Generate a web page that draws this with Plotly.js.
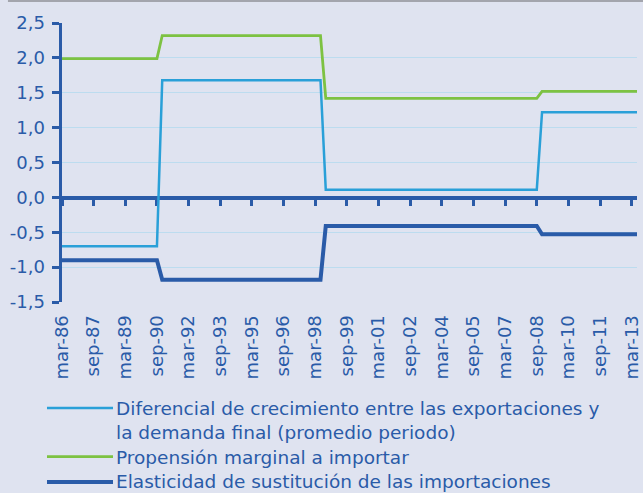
<!DOCTYPE html>
<html>
<head>
<meta charset="utf-8">
<script src="https://cdn.plot.ly/plotly-3.0.1.min.js"></script>
<style>
  html, body { margin: 0; padding: 0; background: #dfe3f0; }
  #chart { width: 643px; height: 493px; }
</style>
</head>
<body>
<div id="chart"></div>
<script>
// Quarterly categories, mar-86 .. jun-13
const months = ['mar', 'jun', 'sep', 'dec'];
const quarters = [];
for (let y = 1986; y <= 2013; y++) {
  for (const m of months) {
    const lab = m + '-' + String(y % 100).padStart(2, '0');
    quarters.push(lab);
    if (lab === 'jun-13') break;
  }
}

// Tick labels shown on the x axis
const tickLabels = ['mar-86','sep-87','mar-89','sep-90','mar-92','sep-93','mar-95','sep-96',
  'mar-98','sep-99','mar-01','sep-02','mar-04','sep-05','mar-07','sep-08','mar-10','sep-11','mar-13'];

// Series (step values between breakpoints)
const breakDates = ['mar-86','sep-90','dec-90','jun-98','sep-98','sep-08','dec-08','jun-13'];
const diferencial = [-0.70, -0.70, 1.68, 1.68, 0.11, 0.11, 1.22, 1.22];
const propension  = [1.99, 1.99, 2.32, 2.32, 1.42, 1.42, 1.52, 1.52];
const elasticidad = [-0.90, -0.90, -1.18, -1.18, -0.41, -0.41, -0.53, -0.53];

const seriesNames = [
  'Diferencial de crecimiento entre las exportaciones y<br>la demanda final (promedio periodo)',
  'Propensión marginal a importar',
  'Elasticidad de sustitución de las importaciones'
];

const yTickVals = [-1.5, -1.0, -0.5, 0, 0.5, 1.0, 1.5, 2.0, 2.5];
const yTickText = ['-1,5', '-1,0', '-0,5', '0,0', '0,5', '1,0', '1,5', '2,0', '2,5'];

const DARK = '#2a5ba8';
const LIGHT = '#2aa0d8';
const GREEN = '#7dc242';
const BG = '#dfe3f0';
const FONT = 'DejaVu Sans, sans-serif';
const colors = [LIGHT, GREEN, DARK];
const widths = [2.5, 2.8, 4];

const seriesData = [diferencial, propension, elasticidad];
const traces = seriesData.map((vals, i) => ({
  x: breakDates, y: vals, name: seriesNames[i], mode: 'lines',
  line: { color: colors[i], width: widths[i] }, xaxis: 'x', yaxis: 'y',
  showlegend: false
}));
// carrier trace for the zero-line axis
traces.push({ x: [0], y: [0], mode: 'none', showlegend: false, hoverinfo: 'skip',
  xaxis: 'x2', yaxis: 'y' });

const tickIdx = tickLabels.map(t => quarters.indexOf(t));

// custom legend (long swatches, as in the original)
const legendTop = [-0.337, -0.5115, -0.600];
const swatchY = [-0.380, -0.5545, -0.645];
const annotations = seriesNames.map((n, i) => ({
  xref: 'paper', yref: 'paper', x: 0.0905, y: legendTop[i],
  xanchor: 'left', yanchor: 'top', align: 'left', showarrow: false,
  text: n, font: { family: FONT, size: 18.5, color: DARK }
}));
const shapes = seriesNames.map((n, i) => ({
  type: 'line', xref: 'paper', yref: 'paper', x0: -0.0261, x1: 0.0887,
  y0: swatchY[i], y1: swatchY[i], line: { color: colors[i], width: widths[i] }
}));
shapes.push({ type: 'line', xref: 'paper', yref: 'paper', x0: -0.094, x1: 1.02,
  y0: 1.079, y1: 1.079, line: { color: '#a3a5ad', width: 2 } });

const layout = {
  width: 643, height: 493,
  paper_bgcolor: BG, plot_bgcolor: BG,
  margin: { l: 62, r: 6, t: 23, b: 191, pad: 0 },
  font: { family: FONT, color: DARK, size: 16 },
  showlegend: false,
  xaxis: {
    type: 'category', categoryorder: 'array', categoryarray: quarters,
    range: [0, quarters.length - 1],
    tickmode: 'array', tickvals: tickLabels, ticktext: tickLabels,
    tickangle: -90, ticks: 'outside', ticklen: 5, tickcolor: 'rgba(0,0,0,0)',
    showline: false, showgrid: false, zeroline: false, automargin: false,
    tickfont: { family: FONT, size: 18, color: DARK }
  },
  xaxis2: {
    type: 'linear', range: [0, quarters.length - 1],
    overlaying: 'x', anchor: 'free', position: 0.375, side: 'bottom',
    tickmode: 'array', tickvals: tickIdx, showticklabels: false,
    ticks: 'outside', ticklen: 6, tickwidth: 3, tickcolor: DARK,
    showline: true, linecolor: DARK, linewidth: 3.5, showgrid: false, zeroline: false,
    layer: 'below traces'
  },
  yaxis: {
    range: [-1.5, 2.5], tickmode: 'array', tickvals: yTickVals, ticktext: yTickText,
    ticks: 'outside', ticklen: 7, tickwidth: 3, tickcolor: DARK,
    showline: true, linecolor: DARK, linewidth: 3.5, automargin: false,
    ticklabelstandoff: 3,
    showgrid: true, gridcolor: '#bcdcef', gridwidth: 1, zeroline: false,
    tickfont: { family: FONT, size: 18, color: DARK }, layer: 'below traces'
  },
  annotations: annotations,
  shapes: shapes
};

Plotly.newPlot('chart', traces, layout, { displayModeBar: false, staticPlot: true });
</script>
</body>
</html>
